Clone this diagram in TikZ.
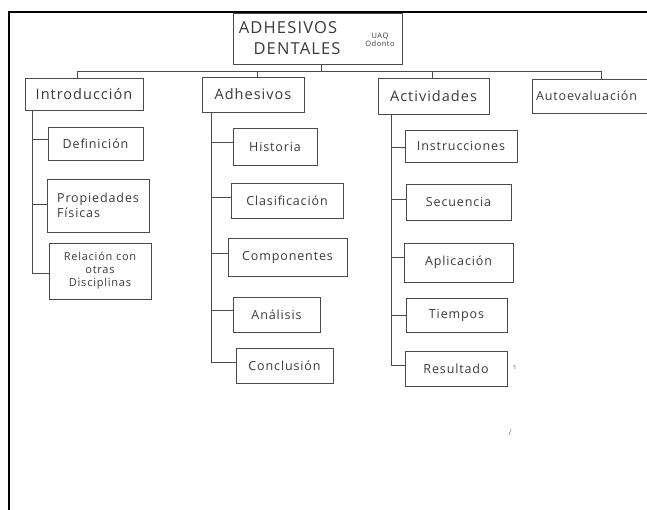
\documentclass[tikz,border=0pt]{standalone}
\usepackage{fontspec}
\setmainfont{Open Sans}[LetterSpace=7]
\definecolor{ink}{HTML}{4A4A4A}
\definecolor{txt}{HTML}{3A3A3A}
\tikzset{
  box/.style 2 args={draw=ink, line width=0.75pt, minimum width=#1, minimum height=#2,
    inner sep=0pt, align=center, text=txt, font=\fontsize{12.5}{15}\selectfont},
  mainbox/.style 2 args={box={#1}{#2}, font=\fontsize{14.5}{17}\selectfont},
  conn/.style={draw=ink, line width=0.75pt},
  frame/.style={draw=black, line width=2.4pt},
  ttl/.style={text=txt, inner sep=0pt, font=\fontsize{16.5}{19}\selectfont},
  small/.style={text=txt, inner sep=0pt, align=center, font=\fontsize{7.5}{8}\selectfont},
  stray/.style={draw=gray, line width=0.6pt}
}
\begin{document}
\begin{tikzpicture}[x=1pt,y=-1pt]
\useasboundingbox (0,0) rectangle (647,510);
\clip (0,0) rectangle (647,510);
\fill[white] (0,0) rectangle (647,510);
% frame
\draw[frame] (9,512) -- (9,12) -- (650,12);
% title
\node[box={169pt}{51pt}] (title) at (317.5,38.5) {};
\node[ttl] (t1) at (288,28) {ADHESIVOS};
\node[ttl] (t2) at (297,49) {DENTALES};
\node[small] (uaq) at (380,40) {UAQ\\Odonto};
% main boxes
\node[mainbox={118pt}{32pt}] (intro) at (84,94) {Introducción};
\node[mainbox={102pt}{35pt}] (adhes) at (253,94.5) {Adhesivos};
\node[mainbox={111pt}{36pt}] (activ) at (433.5,96) {Actividades};
\node[mainbox={128pt}{34pt}, text width=120pt, align=left, font=\fontsize{12.5}{15}\selectfont] (autoev) at (596,96) {Autoevaluación};
% bus
\coordinate (j) at (321,71);
\coordinate (bi) at (77,71);
\coordinate (ba) at (257,71);
\coordinate (bc) at (432,71);
\coordinate (bu) at (601,71);
\draw[conn] (title.south -| j) -- (j);
\draw[conn] (intro.north -| bi) -- (bi) -- (bu) -- (autoev.north -| bu);
\draw[conn] (ba) -- (adhes.north -| ba);
\draw[conn] (bc) -- (activ.north -| bc);
% Introduccion children
\node[box={95pt}{33pt}] (defin) at (95.5,143.5) {Definición};
\node[box={102pt}{53pt}, align=left] (propi) at (98,205.5) {Propiedades\\Físicas};
\node[box={102pt}{56pt}, font=\fontsize{11}{13}\selectfont] (relac) at (100,271) {Relación con\\otras\\Disciplinas};
\coordinate (i1) at (32,139);
\coordinate (i2) at (32,204);
\coordinate (i3) at (32,273);
\draw[conn] (intro.south -| i1) -- (i3);
\draw[conn] (i1) -- (i1 -| defin.west);
\draw[conn] (i2) -- (i2 -| propi.west);
\draw[conn] (i3) -- (i3 -| relac.west);
% Adhesivos children
\node[box={84pt}{37pt}] (hist) at (275,146.5) {Historia};
\node[box={112pt}{35pt}] (clasif) at (287,200.5) {Clasificación};
\node[box={119pt}{38pt}] (compo) at (287.5,257) {Componentes};
\node[box={87pt}{35pt}] (anal) at (276.5,314.5) {Análisis};
\node[box={97pt}{35pt}] (concl) at (284.5,365.5) {Conclusión};
\coordinate (a1) at (211,142);
\coordinate (a2) at (211,197);
\coordinate (a3) at (211,253);
\coordinate (a4) at (211,310);
\coordinate (a5) at (211,362);
\draw[conn] (adhes.south -| a1) -- (a5);
\draw[conn] (a1) -- (a1 -| hist.west);
\draw[conn] (a2) -- (a2 -| clasif.west);
\draw[conn] (a3) -- (a3 -| compo.west);
\draw[conn] (a4) -- (a4 -| anal.west);
\draw[conn] (a5) -- (a5 -| concl.west);
% Actividades children
\node[box={112pt}{32pt}] (instr) at (461,146) {Instrucciones};
\node[box={105pt}{36pt}] (secu) at (458.5,202) {Secuencia};
\node[box={109pt}{39pt}] (aplic) at (458.5,262.5) {Aplicación};
\node[box={101pt}{34pt}] (tiemp) at (456.5,315) {Tiempos};
\node[box={102pt}{35pt}] (resul) at (456,368.5) {Resultado};
\coordinate (c1) at (391,147);
\coordinate (c2) at (391,199);
\coordinate (c3) at (391,257);
\coordinate (c4) at (391,315);
\coordinate (c5) at (391,365);
\draw[conn] (activ.south -| c1) -- (c5);
\draw[conn] (c1) -- (c1 -| instr.west);
\draw[conn] (c2) -- (c2 -| secu.west);
\draw[conn] (c3) -- (c3 -| aplic.west);
\draw[conn] (c4) -- (c4 -| tiemp.west);
\draw[conn] (c5) -- (c5 -| resul.west);
% stray pencil marks
\draw[stray] (513,366) .. controls (515,365) .. (515,369);
\draw[stray] (511,429) -- (509,435);
\end{tikzpicture}
\end{document}
